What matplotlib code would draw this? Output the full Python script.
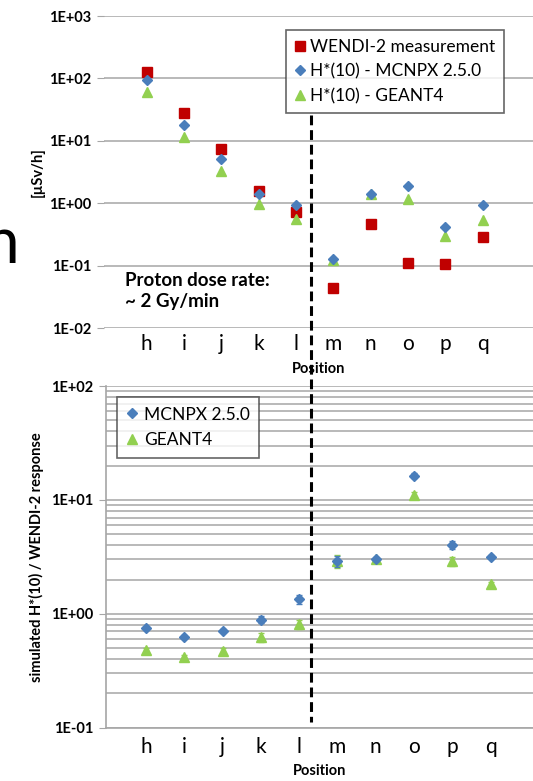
import numpy as np
import matplotlib
matplotlib.use("Agg")
from matplotlib import pyplot as plt
from matplotlib.lines import Line2D
from matplotlib import transforms
from matplotlib.ticker import LogLocator, NullFormatter, FixedLocator

plt.rcParams['font.family'] = ['Lato', 'DejaVu Sans']

positions = ['h', 'i', 'j', 'k', 'l', 'm', 'n', 'o', 'p', 'q']

# top panel: dose rate [uSv/h]
wendi = [128, 27.4, 7.4, 1.54, 0.72, 0.043, 0.46, 0.109, 0.105, 0.285]
mcnpx_rate = [95, 18.1, 5.1, 1.39, 0.95, 0.128, 1.39, 1.9, 0.42, 0.95]
geant_rate = [60, 11.7, 3.34, 0.96, 0.56, 0.125, 1.41, 1.17, 0.30, 0.53]

# bottom panel: simulated H*(10) / WENDI-2 response
mcnpx_ratio = [0.75, 0.63, 0.71, 0.89, 1.34, 2.9, 3.0, 16.3, 4.03, 3.17]
mcnpx_err = [0.02, 0.02, 0.02, 0.06, 0.12, 0.3, 0.1, 0.8, 0.3, 0.1]
geant_ratio = [0.48, 0.417, 0.47, 0.62, 0.81, 2.9, 3.0, 11.0, 2.9, 1.81]
geant_err = [0.02, 0.02, 0.03, 0.06, 0.08, 0.4, 0.15, 0.8, 0.25, 0.08]

top_ticks = [1e-2, 1e-1, 1e0, 1e1, 1e2, 1e3]
top_ticklabels = ['1E-02', '1E-01', '1E+00', '1E+01', '1E+02', '1E+03']
bot_ticks = [1e-1, 1e0, 1e1, 1e2]
bot_ticklabels = ['1E-01', '1E+00', '1E+01', '1E+02']

RED = '#C00000'
BLUE = '#4A7EBB'
GREEN = '#92D050'
GRID = '#A6A6A6'

W, H = 533, 781
fig = plt.figure(figsize=(W / 100, H / 100), dpi=100)

x = np.arange(len(positions))

# ---------- top panel ----------
ax1 = fig.add_axes([104 / W, 1 - 328 / H, (W - 104) / W, (328 - 16) / H])
ax1.set_yscale('log')
ax1.set_ylim(1e-2, 1e3)
ax1.set_xlim(-1.144, 10.35)
ax1.plot(x, wendi, 's', color=RED, ms=6.8, label='WENDI-2 measurement', zorder=3)
ax1.plot(x, mcnpx_rate, 'D', color=BLUE, ms=5, label='H*(10) - MCNPX 2.5.0', zorder=4)
ax1.plot(x, geant_rate, '^', color=GREEN, ms=7, label='H*(10) - GEANT4', zorder=3)

ax1.yaxis.set_major_locator(FixedLocator(top_ticks))
ax1.set_yticklabels(top_ticklabels, fontsize=10.5, fontweight='bold')
ax1.yaxis.set_minor_locator(FixedLocator([]))
ax1.set_xticks(x)
ax1.set_xticklabels(positions, fontsize=15)
ax1.tick_params(axis='x', length=0, pad=4)
ax1.tick_params(axis='y', length=5, color=GRID, pad=4)
ax1.grid(True, axis='y', which='major', color=GRID, lw=1.1)
for s in ax1.spines.values():
    s.set_visible(False)
ax1.set_axisbelow(True)
ax1.set_ylabel('[µSv/h]', fontsize=10.5, fontweight='bold', labelpad=3)
ax1.set_xlabel('Position', fontsize=10.5, fontweight='bold', labelpad=6)
ax1.text(125 / W, 1 - 291 / H, 'Proton dose rate:\n~ 2 Gy/min', transform=fig.transFigure,
         fontsize=13.5, fontweight='bold', va='center', ha='left', linespacing=1.25)

leg1 = ax1.legend(loc='upper left', bbox_to_anchor=(286 / W, 1 - 30 / H),
                  bbox_transform=fig.transFigure, fontsize=12.5, frameon=True,
                  fancybox=False, handlelength=0.6, handletextpad=0.3,
                  borderpad=0.5, labelspacing=0.5, borderaxespad=0)
leg1.get_frame().set_edgecolor('#404040')
leg1.get_frame().set_linewidth(1.2)
leg1.set_zorder(10)

# ---------- bottom panel ----------
ax2 = fig.add_axes([106 / W, 1 - 727.7 / H, (W - 106) / W, (727.7 - 386) / H])
ax2.set_yscale('log')
ax2.set_ylim(1e-1, 1e2)
ax2.set_xlim(-1.044, 10.105)
eb1 = ax2.errorbar(x, mcnpx_ratio, yerr=mcnpx_err, fmt='D', color=BLUE, ms=5.5,
                   elinewidth=1.2, capsize=2.5, zorder=4)
eb2 = ax2.errorbar(x, geant_ratio, yerr=geant_err, fmt='^', color=GREEN, ms=7.5,
                   elinewidth=1.2, capsize=2.5, zorder=3)

ax2.yaxis.set_major_locator(FixedLocator(bot_ticks))
ax2.set_yticklabels(bot_ticklabels, fontsize=10.5, fontweight='bold')
ax2.yaxis.set_minor_locator(LogLocator(base=10, subs=np.arange(2, 10)))
ax2.yaxis.set_minor_formatter(NullFormatter())
ax2.set_xticks(x)
ax2.set_xticklabels(positions, fontsize=15)
ax2.tick_params(axis='x', length=0, pad=7)
ax2.tick_params(axis='y', which='major', length=5, color=GRID, pad=4)
ax2.tick_params(axis='y', which='minor', length=0)
ax2.grid(True, axis='y', which='both', color=GRID, lw=1.1)
ax2.spines['top'].set_visible(False)
ax2.spines['right'].set_visible(False)
ax2.spines['left'].set_color(GRID)
ax2.spines['bottom'].set_color(GRID)
ax2.spines['left'].set_linewidth(1.2)
ax2.spines['bottom'].set_linewidth(1.2)
ax2.set_axisbelow(True)
ax2.set_ylabel('simulated H*(10) / WENDI-2 response', fontsize=10.5, fontweight='bold', labelpad=5)
ax2.set_xlabel('Position', fontsize=10.5, fontweight='bold', labelpad=5)

leg2 = ax2.legend([eb1[0], eb2[0]], ['MCNPX 2.5.0', 'GEANT4'],
                  loc='upper left', bbox_to_anchor=(117 / W, 1 - 397 / H),
                  bbox_transform=fig.transFigure, fontsize=12.5, frameon=True,
                  fancybox=False, handlelength=0.6, handletextpad=0.4,
                  borderpad=0.55, labelspacing=0.55, borderaxespad=0)
leg2.get_frame().set_edgecolor('#404040')
leg2.get_frame().set_linewidth(1.2)

# dashed separator between l and m, running through both panels
sep = transforms.blended_transform_factory(ax1.transData, fig.transFigure)
fig.add_artist(Line2D([4.4, 4.4], [1 - 115 / H, 1 - 722 / H], transform=sep,
                      color='black', lw=2.2, linestyle=(0, (3.2, 1.6)), zorder=5))

# cut-off letter from the slide at the left edge
fig.text(19 / W, 1 - 263 / H, 'n', fontsize=46, ha='right', va='baseline')

fig.savefig('out.png', dpi=100)
